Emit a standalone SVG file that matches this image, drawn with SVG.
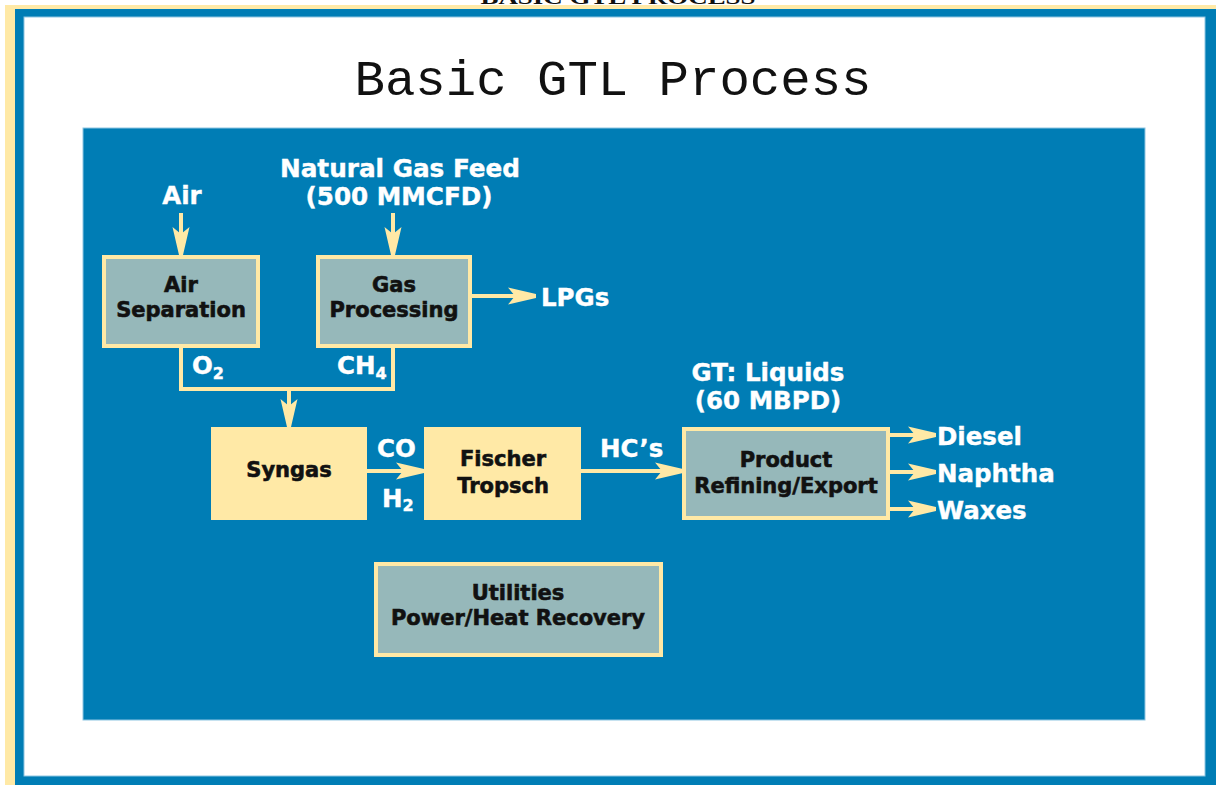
<svg xmlns="http://www.w3.org/2000/svg" width="1216" height="785" viewBox="0 0 1216 785">
<style>
.lbl{font-family:"DejaVu Sans","Liberation Sans",sans-serif;font-weight:bold;fill:#ffffff;font-size:24.5px;stroke:#ffffff;stroke-width:0.4px}
.box{font-family:"DejaVu Sans","Liberation Sans",sans-serif;font-weight:bold;fill:#111111;font-size:21px;stroke:#111111;stroke-width:0.6px}
.sub{font-size:16px}
.conn{stroke:#ffe9a6;stroke-width:4;fill:none}
.grey{fill:#96b8ba;stroke:#ffe9a6;stroke-width:4}
.yel{fill:#ffe9a6}
</style>
<defs>
<marker id="ah" markerUnits="userSpaceOnUse" markerWidth="32" markerHeight="22" viewBox="-30 -11 32 22" refX="0" refY="0" orient="auto">
<path d="M0,-2 L0,2 L-28,8.5 L-21,0 L-28,-8.5 Z" fill="#ffe9a6"/>
</marker>
</defs>
<rect x="0" y="0" width="1216" height="785" fill="#ffffff"/>
<text x="618" y="4" text-anchor="middle" font-family="Liberation Serif,serif" font-weight="bold" font-size="18" textLength="275" lengthAdjust="spacingAndGlyphs" fill="#111">BASIC GTL PROCESS</text>
<rect x="5" y="5" width="1211" height="780" fill="#ffe9a6"/>
<rect x="15" y="9" width="1201" height="776" fill="#007db5"/>
<rect x="24" y="17" width="1181" height="759" fill="#ffffff" stroke="#8ec6e2" stroke-width="1"/>
<text x="613" y="95" text-anchor="middle" font-family="Liberation Mono,monospace" font-size="50" textLength="517" lengthAdjust="spacingAndGlyphs" fill="#111">Basic GTL Process</text>
<rect x="83" y="128" width="1062" height="592" fill="#007db5" stroke="#8ec6e2" stroke-width="1"/>

<g id="connectors">
<line class="conn" x1="181" y1="213" x2="181" y2="255" marker-end="url(#ah)"/>
<line class="conn" x1="393" y1="213" x2="393" y2="255" marker-end="url(#ah)"/>
<line class="conn" x1="472" y1="296" x2="536" y2="296" marker-end="url(#ah)"/>
<polyline class="conn" points="181,348 181,389 393,389 393,348"/>
<line class="conn" x1="289" y1="389" x2="289" y2="427" marker-end="url(#ah)"/>
<line class="conn" x1="367" y1="471" x2="424" y2="471" marker-end="url(#ah)"/>
<line class="conn" x1="581" y1="471" x2="683" y2="471" marker-end="url(#ah)"/>
<line class="conn" x1="890" y1="435" x2="936" y2="435" marker-end="url(#ah)"/>
<line class="conn" x1="890" y1="472" x2="936" y2="472" marker-end="url(#ah)"/>
<line class="conn" x1="890" y1="509" x2="936" y2="509" marker-end="url(#ah)"/>
</g>

<g id="labels">
<text class="lbl" x="182" y="204" text-anchor="middle">Air</text>
<text class="lbl" x="400" y="177" text-anchor="middle" textLength="240" lengthAdjust="spacingAndGlyphs">Natural Gas Feed</text>
<text class="lbl" x="399" y="205" text-anchor="middle" textLength="187" lengthAdjust="spacingAndGlyphs">(500 MMCFD)</text>
<text class="lbl" x="541" y="306">LPGs</text>
<text class="lbl" x="192" y="374">O<tspan class="sub" dy="5">2</tspan></text>
<text class="lbl" x="337" y="374">CH<tspan class="sub" dy="5">4</tspan></text>
<text class="lbl" x="377" y="457">CO</text>
<text class="lbl" x="382" y="507">H<tspan class="sub" dy="4">2</tspan></text>
<text class="lbl" x="600" y="457">HC’s</text>
<text class="lbl" x="768" y="381" text-anchor="middle">GT: Liquids</text>
<text class="lbl" x="768" y="409" text-anchor="middle">(60 MBPD)</text>
<text class="lbl" x="937" y="445">Diesel</text>
<text class="lbl" x="937" y="482">Naphtha</text>
<text class="lbl" x="937" y="519">Waxes</text>
</g>

<g id="air-separation">
<rect class="grey" x="104" y="257" width="154" height="89"/>
<text class="box" x="181" y="292" text-anchor="middle">Air</text>
<text class="box" x="181" y="317" text-anchor="middle">Separation</text>
</g>
<g id="gas-processing">
<rect class="grey" x="318" y="257" width="152" height="89"/>
<text class="box" x="394" y="292" text-anchor="middle">Gas</text>
<text class="box" x="394" y="317" text-anchor="middle">Processing</text>
</g>
<g id="syngas">
<rect class="yel" x="211" y="427" width="156" height="93"/>
<text class="box" x="289" y="477" text-anchor="middle">Syngas</text>
</g>
<g id="fischer-tropsch">
<rect class="yel" x="424" y="427" width="157" height="93"/>
<text class="box" x="503" y="466" text-anchor="middle">Fischer</text>
<text class="box" x="503" y="493" text-anchor="middle">Tropsch</text>
</g>
<g id="product-refining">
<rect class="grey" x="684" y="429" width="204" height="89"/>
<text class="box" x="786" y="467" text-anchor="middle">Product</text>
<text class="box" x="786" y="493" text-anchor="middle">Refining/Export</text>
</g>
<g id="utilities">
<rect class="grey" x="376" y="564" width="285" height="91"/>
<text class="box" x="518" y="600" text-anchor="middle">Utilities</text>
<text class="box" x="518" y="625" text-anchor="middle">Power/Heat Recovery</text>
</g>
</svg>
